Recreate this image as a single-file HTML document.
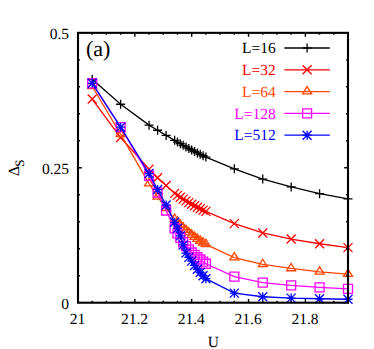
<!DOCTYPE html>
<html><head><meta charset="utf-8"><title>plot</title>
<style>
html,body{margin:0;padding:0;background:#fff;}
body{width:374px;height:349px;overflow:hidden;}
svg{display:block;}
text{font-family:"Liberation Serif",serif;text-rendering:geometricPrecision;}
</style></head><body>
<svg width="374" height="349" viewBox="0 0 374 349">
<rect width="374" height="349" fill="#fff"/>
<g fill="none" stroke="#000000" stroke-width="1.3"><path d="M92.21 79.16L120.63 104.25L149.05 125.14L157.58 130.27L166.11 135.39L174.63 140.36L177.47 142.06L180.32 143.72L183.16 145.35L186 146.94L188.84 148.5L191.68 150.02L194.53 151.5L197.37 152.95L200.21 154.37L203.05 155.75L205.89 157.09L234.32 168.85L262.74 179.11L291.16 186.88L319.58 193.68L348 198.97M284.4 48H329.8"/><path d="M87.71 79.16H96.71M92.21 74.66V83.66M116.13 104.25H125.13M120.63 99.75V108.75M144.55 125.14H153.55M149.05 120.64V129.64M153.08 130.27H162.08M157.58 125.77V134.77M161.61 135.39H170.61M166.11 130.89V139.89M170.13 140.36H179.13M174.63 135.86V144.86M172.97 142.06H181.97M177.47 137.56V146.56M175.82 143.72H184.82M180.32 139.22V148.22M178.66 145.35H187.66M183.16 140.85V149.85M181.5 146.94H190.5M186 142.44V151.44M184.34 148.5H193.34M188.84 144V153M187.18 150.02H196.18M191.68 145.52V154.52M190.03 151.5H199.03M194.53 147V156M192.87 152.95H201.87M197.37 148.45V157.45M195.71 154.37H204.71M200.21 149.87V158.87M198.55 155.75H207.55M203.05 151.25V160.25M201.39 157.09H210.39M205.89 152.59V161.59M229.82 168.85H238.82M234.32 164.35V173.35M258.24 179.11H267.24M262.74 174.61V183.61M286.66 186.88H295.66M291.16 182.38V191.38M315.08 193.68H324.08M319.58 189.18V198.18M343.5 198.97H352.5M348 194.47V203.47M302.6 48H311.6M307.1 43.5V52.5"/></g>
<text x="275.8" y="53.1" font-size="15.5" fill="#000000" text-anchor="end">L=16</text>
<g fill="none" stroke="#ff0000" stroke-width="1.3"><path d="M92.21 99.07L120.63 137.55L149.05 169.12L157.58 177.81L166.11 185.48L174.63 193.36L177.47 195.35L180.32 197.28L183.16 199.13L186 200.91L188.84 202.62L191.68 204.26L194.53 205.83L197.37 207.32L200.21 208.75L203.05 210.1L205.89 211.38L234.32 223.63L262.74 232.97L291.16 239.02L319.58 243.76L348 247.65M284.4 69.8H329.8"/><path d="M87.71 94.57L96.71 103.57M87.71 103.57L96.71 94.57M116.13 133.05L125.13 142.05M116.13 142.05L125.13 133.05M144.55 164.62L153.55 173.62M144.55 173.62L153.55 164.62M153.08 173.31L162.08 182.31M153.08 182.31L162.08 173.31M161.61 180.98L170.61 189.98M161.61 189.98L170.61 180.98M170.13 188.86L179.13 197.86M170.13 197.86L179.13 188.86M172.97 190.85L181.97 199.85M172.97 199.85L181.97 190.85M175.82 192.78L184.82 201.78M175.82 201.78L184.82 192.78M178.66 194.63L187.66 203.63M178.66 203.63L187.66 194.63M181.5 196.41L190.5 205.41M181.5 205.41L190.5 196.41M184.34 198.12L193.34 207.12M184.34 207.12L193.34 198.12M187.18 199.76L196.18 208.76M187.18 208.76L196.18 199.76M190.03 201.33L199.03 210.33M190.03 210.33L199.03 201.33M192.87 202.82L201.87 211.82M192.87 211.82L201.87 202.82M195.71 204.25L204.71 213.25M195.71 213.25L204.71 204.25M198.55 205.6L207.55 214.6M198.55 214.6L207.55 205.6M201.39 206.88L210.39 215.88M201.39 215.88L210.39 206.88M229.82 219.13L238.82 228.13M229.82 228.13L238.82 219.13M258.24 228.47L267.24 237.47M258.24 237.47L267.24 228.47M286.66 234.52L295.66 243.52M286.66 243.52L295.66 234.52M315.08 239.26L324.08 248.26M315.08 248.26L324.08 239.26M343.5 243.15L352.5 252.15M343.5 252.15L352.5 243.15M302.6 65.3L311.6 74.3M302.6 74.3L311.6 65.3"/></g>
<text x="275.8" y="74.9" font-size="15.5" fill="#ff0000" text-anchor="end">L=32</text>
<g fill="none" stroke="#ff4500" stroke-width="1.3"><path d="M92.21 86.28L120.63 134.37L149.05 183.59L157.58 196.92L166.11 208.25L174.63 219.1L177.47 222.11L180.32 224.97L183.16 227.69L186 230.26L188.84 232.7L191.68 234.99L194.53 237.14L197.37 239.14L200.21 241.01L203.05 242.73L205.89 244.3L234.32 257.64L262.74 264.27L291.16 268.48L319.58 271.83L348 274.1M284.4 91.6H329.8"/><path d="M92.21 81.24L87.71 88.53H96.71ZM120.63 129.33L116.13 136.62H125.13ZM149.05 178.55L144.55 185.84H153.55ZM157.58 191.88L153.08 199.17H162.08ZM166.11 203.21L161.61 210.5H170.61ZM174.63 214.06L170.13 221.35H179.13ZM177.47 217.07L172.97 224.36H181.97ZM180.32 219.93L175.82 227.22H184.82ZM183.16 222.65L178.66 229.94H187.66ZM186 225.22L181.5 232.51H190.5ZM188.84 227.66L184.34 234.95H193.34ZM191.68 229.95L187.18 237.24H196.18ZM194.53 232.1L190.03 239.39H199.03ZM197.37 234.1L192.87 241.39H201.87ZM200.21 235.97L195.71 243.26H204.71ZM203.05 237.69L198.55 244.98H207.55ZM205.89 239.26L201.39 246.55H210.39ZM234.32 252.6L229.82 259.89H238.82ZM262.74 259.23L258.24 266.52H267.24ZM291.16 263.44L286.66 270.73H295.66ZM319.58 266.79L315.08 274.08H324.08ZM348 269.06L343.5 276.35H352.5ZM307.1 86.56L302.6 93.85H311.6Z"/></g>
<text x="275.8" y="96.7" font-size="15.5" fill="#ff4500" text-anchor="end">L=64</text>
<g fill="none" stroke="#ff00ff" stroke-width="1.3"><path d="M92.21 83.31L120.63 127.19L149.05 175.76L157.58 192.71L166.11 210.52L174.63 228.38L177.47 233.35L180.32 237.94L183.16 242.25L186 246.03L188.84 249.54L191.68 252.51L194.53 254.94L197.37 257.26L200.21 259.52L203.05 261.68L205.89 263.73L234.32 276.58L262.74 282.62L291.16 285.32L319.58 287.32L348 288.88M284.4 113.4H329.8"/><path d="M87.71 78.81H96.71V87.81H87.71ZM116.13 122.69H125.13V131.69H116.13ZM144.55 171.26H153.55V180.26H144.55ZM153.08 188.21H162.08V197.21H153.08ZM161.61 206.02H170.61V215.02H161.61ZM170.13 223.88H179.13V232.88H170.13ZM172.97 228.85H181.97V237.85H172.97ZM175.82 233.44H184.82V242.44H175.82ZM178.66 237.75H187.66V246.75H178.66ZM181.5 241.53H190.5V250.53H181.5ZM184.34 245.04H193.34V254.04H184.34ZM187.18 248.01H196.18V257.01H187.18ZM190.03 250.44H199.03V259.44H190.03ZM192.87 252.76H201.87V261.76H192.87ZM195.71 255.02H204.71V264.02H195.71ZM198.55 257.18H207.55V266.18H198.55ZM201.39 259.23H210.39V268.23H201.39ZM229.82 272.08H238.82V281.08H229.82ZM258.24 278.12H267.24V287.12H258.24ZM286.66 280.82H295.66V289.82H286.66ZM315.08 282.82H324.08V291.82H315.08ZM343.5 284.38H352.5V293.38H343.5ZM302.6 108.9H311.6V117.9H302.6Z"/></g>
<text x="275.8" y="118.5" font-size="15.5" fill="#ff00ff" text-anchor="end">L=128</text>
<g fill="none" stroke="#0000ff" stroke-width="1.3"><path d="M92.21 83.31L120.63 127.19L149.05 173.55L157.58 189.58L166.11 205.01L174.63 222.28L177.47 228.22L180.32 235.78L183.16 244.95L186 253.05L188.84 257.37L191.68 261.14L194.53 265.46L197.37 269.24L200.21 272.48L203.05 275.71L205.89 278.68L234.32 293.15L262.74 296.76L291.16 298.11L319.58 298.76L348 299.25M284.4 135.2H329.8"/><path d="M87.71 83.31H96.71M92.21 78.81V87.81M87.71 78.81L96.71 87.81M87.71 87.81L96.71 78.81M116.13 127.19H125.13M120.63 122.69V131.69M116.13 122.69L125.13 131.69M116.13 131.69L125.13 122.69M144.55 173.55H153.55M149.05 169.05V178.05M144.55 169.05L153.55 178.05M144.55 178.05L153.55 169.05M153.08 189.58H162.08M157.58 185.08V194.08M153.08 185.08L162.08 194.08M153.08 194.08L162.08 185.08M161.61 205.01H170.61M166.11 200.51V209.51M161.61 200.51L170.61 209.51M161.61 209.51L170.61 200.51M170.13 222.28H179.13M174.63 217.78V226.78M170.13 217.78L179.13 226.78M170.13 226.78L179.13 217.78M172.97 228.22H181.97M177.47 223.72V232.72M172.97 223.72L181.97 232.72M172.97 232.72L181.97 223.72M175.82 235.78H184.82M180.32 231.28V240.28M175.82 231.28L184.82 240.28M175.82 240.28L184.82 231.28M178.66 244.95H187.66M183.16 240.45V249.45M178.66 240.45L187.66 249.45M178.66 249.45L187.66 240.45M181.5 253.05H190.5M186 248.55V257.55M181.5 248.55L190.5 257.55M181.5 257.55L190.5 248.55M184.34 257.37H193.34M188.84 252.87V261.87M184.34 252.87L193.34 261.87M184.34 261.87L193.34 252.87M187.18 261.14H196.18M191.68 256.64V265.64M187.18 256.64L196.18 265.64M187.18 265.64L196.18 256.64M190.03 265.46H199.03M194.53 260.96V269.96M190.03 260.96L199.03 269.96M190.03 269.96L199.03 260.96M192.87 269.24H201.87M197.37 264.74V273.74M192.87 264.74L201.87 273.74M192.87 273.74L201.87 264.74M195.71 272.48H204.71M200.21 267.98V276.98M195.71 267.98L204.71 276.98M195.71 276.98L204.71 267.98M198.55 275.71H207.55M203.05 271.21V280.21M198.55 271.21L207.55 280.21M198.55 280.21L207.55 271.21M201.39 278.68H210.39M205.89 274.18V283.18M201.39 274.18L210.39 283.18M201.39 283.18L210.39 274.18M229.82 293.15H238.82M234.32 288.65V297.65M229.82 288.65L238.82 297.65M229.82 297.65L238.82 288.65M258.24 296.76H267.24M262.74 292.26V301.26M258.24 292.26L267.24 301.26M258.24 301.26L267.24 292.26M286.66 298.11H295.66M291.16 293.61V302.61M286.66 293.61L295.66 302.61M286.66 302.61L295.66 293.61M315.08 298.76H324.08M319.58 294.26V303.26M315.08 294.26L324.08 303.26M315.08 303.26L324.08 294.26M343.5 299.25H352.5M348 294.75V303.75M343.5 294.75L352.5 303.75M343.5 303.75L352.5 294.75M302.6 135.2H311.6M307.1 130.7V139.7M302.6 130.7L311.6 139.7M302.6 139.7L311.6 130.7"/></g>
<text x="275.8" y="140.3" font-size="15.5" fill="#0000ff" text-anchor="end">L=512</text>
<path d="M92.21 302.7v-2M92.21 32.85v2M106.42 302.7v-2M106.42 32.85v2M120.63 302.7v-2M120.63 32.85v2M134.84 302.7v-3.8M134.84 32.85v3.8M149.05 302.7v-2M149.05 32.85v2M163.26 302.7v-2M163.26 32.85v2M177.47 302.7v-2M177.47 32.85v2M191.68 302.7v-3.8M191.68 32.85v3.8M205.89 302.7v-2M205.89 32.85v2M220.11 302.7v-2M220.11 32.85v2M234.32 302.7v-2M234.32 32.85v2M248.53 302.7v-3.8M248.53 32.85v3.8M262.74 302.7v-2M262.74 32.85v2M276.95 302.7v-2M276.95 32.85v2M291.16 302.7v-2M291.16 32.85v2M305.37 302.7v-3.8M305.37 32.85v3.8M319.58 302.7v-2M319.58 32.85v2M333.79 302.7v-2M333.79 32.85v2M348 302.7v-2M348 32.85v2M78 275.71h2M348 275.71h-2M78 248.73h2M348 248.73h-2M78 221.75h2M348 221.75h-2M78 194.76h2M348 194.76h-2M78 167.78h3.8M348 167.78h-3.8M78 140.79h2M348 140.79h-2M78 113.81h2M348 113.81h-2M78 86.82h2M348 86.82h-2M78 59.84h2M348 59.84h-2" fill="none" stroke="#000" stroke-width="1.4"/>
<rect x="78" y="32.85" width="270" height="269.85" fill="none" stroke="#000" stroke-width="2.1"/>
<text x="77.6" y="323.6" font-size="15.5" text-anchor="middle">21</text>
<text x="134.44" y="323.6" font-size="15.5" text-anchor="middle">21.2</text>
<text x="191.28" y="323.6" font-size="15.5" text-anchor="middle">21.4</text>
<text x="248.13" y="323.6" font-size="15.5" text-anchor="middle">21.6</text>
<text x="304.97" y="323.6" font-size="15.5" text-anchor="middle">21.8</text>
<text x="69" y="308.5" font-size="15.5" text-anchor="end">0</text>
<text x="69" y="173.58" font-size="15.5" text-anchor="end">0.25</text>
<text x="69" y="38.65" font-size="15.5" text-anchor="end">0.5</text>
<text x="213.4" y="346.5" font-size="15.5" text-anchor="middle">U</text>
<text x="86" y="55.7" font-size="22">(a)</text>
<g transform="translate(18.9 176) rotate(-90)"><text x="0" y="0" font-size="15.5">Δ</text><text x="9.3" y="5" font-size="13">S</text></g>
</svg></body></html>
